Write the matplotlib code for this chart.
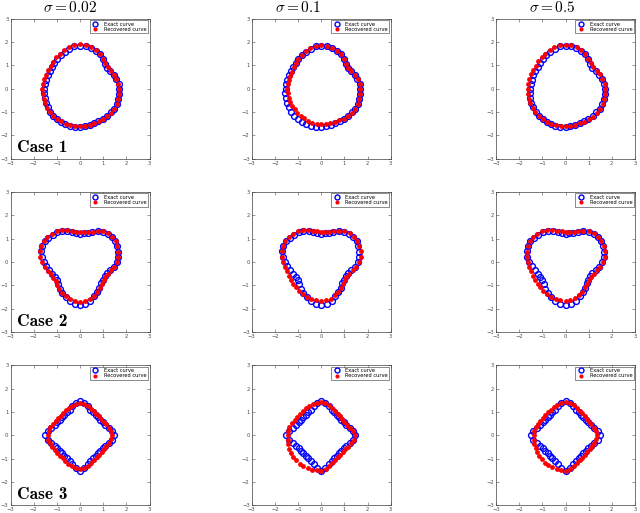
import numpy as np
import matplotlib
matplotlib.use("Agg")
import matplotlib.pyplot as plt

plt.rcParams['mathtext.fontset'] = 'cm'

# polar sampling of every curve: radius read at these angles (degrees)
angles_deg = np.arange(0, 360, 7.5)

# Case 1 - exact and recovered radii
exact_1 = [1.69, 1.68, 1.62, 1.57, 1.50, 1.46, 1.50, 1.60, 1.70, 1.76, 1.80, 1.84,
           1.85, 1.84, 1.78, 1.72, 1.67, 1.62, 1.56, 1.52, 1.50, 1.50, 1.51, 1.52,
           1.54, 1.56, 1.57, 1.59, 1.60, 1.62, 1.63, 1.63, 1.64, 1.66, 1.67, 1.66,
           1.64, 1.63, 1.60, 1.58, 1.58, 1.62, 1.65, 1.67, 1.70, 1.71, 1.71, 1.70]
rec_1_002 = [1.68, 1.67, 1.63, 1.59, 1.54, 1.52, 1.55, 1.63, 1.72, 1.79, 1.84, 1.88,
             1.90, 1.89, 1.85, 1.79, 1.74, 1.69, 1.64, 1.60, 1.58, 1.58, 1.59, 1.60,
             1.62, 1.63, 1.63, 1.63, 1.63, 1.63, 1.63, 1.62, 1.62, 1.62, 1.62, 1.61,
             1.61, 1.61, 1.61, 1.61, 1.62, 1.64, 1.66, 1.68, 1.70, 1.71, 1.70, 1.69]
rec_1_01 = [1.69, 1.68, 1.63, 1.58, 1.51, 1.47, 1.50, 1.60, 1.70, 1.77, 1.81, 1.85,
            1.86, 1.85, 1.80, 1.73, 1.67, 1.61, 1.55, 1.50, 1.47, 1.46, 1.46, 1.46,
            1.46, 1.46, 1.46, 1.45, 1.45, 1.45, 1.45, 1.46, 1.47, 1.49, 1.50, 1.51,
            1.51, 1.52, 1.53, 1.55, 1.57, 1.61, 1.65, 1.68, 1.70, 1.71, 1.71, 1.70]
rec_1_05 = [1.71, 1.70, 1.65, 1.60, 1.55, 1.52, 1.55, 1.63, 1.72, 1.79, 1.84, 1.88,
            1.89, 1.88, 1.84, 1.79, 1.74, 1.70, 1.66, 1.63, 1.62, 1.62, 1.62, 1.63,
            1.63, 1.64, 1.64, 1.64, 1.64, 1.64, 1.64, 1.63, 1.63, 1.62, 1.61, 1.60,
            1.60, 1.60, 1.60, 1.61, 1.63, 1.66, 1.69, 1.71, 1.73, 1.74, 1.73, 1.72]

# Case 2
exact_2 = [1.58, 1.66, 1.70, 1.74, 1.76, 1.75, 1.72, 1.64, 1.52, 1.37, 1.29, 1.24,
           1.22, 1.25, 1.32, 1.42, 1.53, 1.60, 1.66, 1.72, 1.76, 1.77, 1.74, 1.67,
           1.57, 1.47, 1.38, 1.30, 1.26, 1.27, 1.34, 1.44, 1.53, 1.62, 1.71, 1.80,
           1.85, 1.81, 1.72, 1.60, 1.48, 1.38, 1.30, 1.24, 1.23, 1.26, 1.35, 1.48]
rec_2_002 = [1.60, 1.67, 1.71, 1.75, 1.77, 1.76, 1.73, 1.65, 1.54, 1.41, 1.33, 1.29,
             1.28, 1.31, 1.38, 1.48, 1.59, 1.66, 1.72, 1.77, 1.80, 1.81, 1.78, 1.72,
             1.63, 1.53, 1.44, 1.37, 1.33, 1.33, 1.38, 1.46, 1.53, 1.60, 1.66, 1.70,
             1.72, 1.70, 1.65, 1.57, 1.49, 1.40, 1.33, 1.28, 1.26, 1.29, 1.37, 1.50]
rec_2_01 = [1.65, 1.72, 1.76, 1.78, 1.79, 1.77, 1.73, 1.65, 1.54, 1.42, 1.35, 1.31,
            1.29, 1.32, 1.38, 1.48, 1.58, 1.66, 1.72, 1.76, 1.78, 1.77, 1.74, 1.69,
            1.63, 1.58, 1.54, 1.52, 1.51, 1.52, 1.54, 1.57, 1.60, 1.63, 1.65, 1.66,
            1.67, 1.66, 1.62, 1.55, 1.47, 1.38, 1.31, 1.27, 1.26, 1.30, 1.40, 1.53]
rec_2_05 = [1.63, 1.70, 1.75, 1.78, 1.79, 1.77, 1.73, 1.65, 1.55, 1.43, 1.35, 1.31,
            1.30, 1.32, 1.38, 1.47, 1.57, 1.65, 1.71, 1.75, 1.77, 1.76, 1.73, 1.68,
            1.63, 1.58, 1.54, 1.52, 1.51, 1.52, 1.54, 1.57, 1.60, 1.63, 1.65, 1.66,
            1.66, 1.65, 1.61, 1.54, 1.46, 1.37, 1.31, 1.27, 1.27, 1.31, 1.40, 1.52]

# Case 3
exact_3 = [1.48, 1.40, 1.28, 1.18, 1.13, 1.10, 1.09, 1.10, 1.13, 1.18, 1.28, 1.40,
           1.49, 1.40, 1.28, 1.18, 1.13, 1.10, 1.09, 1.10, 1.13, 1.18, 1.28, 1.40,
           1.50, 1.40, 1.28, 1.18, 1.13, 1.10, 1.09, 1.10, 1.13, 1.18, 1.28, 1.40,
           1.51, 1.40, 1.28, 1.18, 1.13, 1.10, 1.09, 1.10, 1.13, 1.18, 1.28, 1.40]
rec_3_002 = [1.36, 1.34, 1.29, 1.23, 1.18, 1.15, 1.14, 1.15, 1.18, 1.23, 1.30, 1.35,
             1.38, 1.36, 1.32, 1.27, 1.23, 1.20, 1.19, 1.20, 1.22, 1.26, 1.32, 1.37,
             1.40, 1.38, 1.35, 1.30, 1.26, 1.24, 1.23, 1.24, 1.27, 1.31, 1.36, 1.41,
             1.44, 1.42, 1.36, 1.29, 1.23, 1.19, 1.17, 1.17, 1.19, 1.23, 1.28, 1.33]
rec_3_01 = [1.44, 1.38, 1.28, 1.20, 1.16, 1.14, 1.14, 1.16, 1.20, 1.27, 1.35, 1.40,
            1.42, 1.41, 1.39, 1.36, 1.33, 1.30, 1.29, 1.30, 1.33, 1.38, 1.42, 1.44,
            1.45, 1.46, 1.47, 1.49, 1.50, 1.51, 1.52, 1.53, 1.54, 1.54, 1.54, 1.52,
            1.51, 1.45, 1.35, 1.27, 1.21, 1.18, 1.17, 1.18, 1.21, 1.27, 1.35, 1.41]
rec_3_05 = [1.34, 1.32, 1.27, 1.21, 1.17, 1.15, 1.16, 1.18, 1.22, 1.28, 1.35, 1.40,
            1.42, 1.40, 1.36, 1.31, 1.27, 1.24, 1.23, 1.24, 1.26, 1.29, 1.33, 1.36,
            1.38, 1.38, 1.39, 1.40, 1.42, 1.44, 1.46, 1.47, 1.48, 1.49, 1.50, 1.51,
            1.51, 1.46, 1.38, 1.30, 1.24, 1.20, 1.18, 1.18, 1.20, 1.24, 1.29, 1.32]

sigmas = ["0.02", "0.1", "0.5"]
case_names = ["Case 1", "Case 2", "Case 3"]
exact_curves = [exact_1, exact_2, exact_3]
recovered_curves = [[rec_1_002, rec_1_01, rec_1_05],
                    [rec_2_002, rec_2_01, rec_2_05],
                    [rec_3_002, rec_3_01, rec_3_05]]

fig = plt.figure(figsize=(6.4, 5.13), dpi=100)

# axes placement (figure fractions)
lefts = [10.5 / 640, 251.7 / 640, 496 / 640]
bottoms = [1 - 158.7 / 513, 1 - 332 / 513, 1 - 505.3 / 513]
w, h = 139 / 640, 140 / 513
title_x = [70 / 640, 298 / 640, 552 / 640]

th = np.deg2rad(angles_deg)
for i in range(3):
    for j in range(3):
        ax = fig.add_axes([lefts[j], bottoms[i], w, h])
        r_ex = np.array(exact_curves[i])
        r_rc = np.array(recovered_curves[i][j])
        ax.plot(r_ex * np.cos(th), r_ex * np.sin(th), 'o', ls='none',
                mfc='none', mec='#0000ff', mew=1.0, ms=4.2, label='Exact curve')
        ax.plot(r_rc * np.cos(th), r_rc * np.sin(th), 'o', ls='none',
                color='#ff0000', mec='none', ms=3.5, label='Recovered curve')
        ax.set_xlim(-3, 3)
        ax.set_ylim(-3, 3)
        ax.set_xticks(range(-3, 4))
        ax.set_yticks(range(-3, 4))
        ax.tick_params(direction='in', top=True, right=True, length=2, width=0.4,
                       labelsize=3.8, labelcolor='0.3', color='0.3', pad=1.5)
        for s in ax.spines.values():
            s.set_linewidth(0.5)
            s.set_color('0.25')
        leg = ax.legend(loc='upper right', fontsize=3.7, fancybox=False,
                        edgecolor='0.2', framealpha=1, borderpad=0.3,
                        handletextpad=0.9, handlelength=1.6, labelspacing=0.05,
                        borderaxespad=0.25, markerscale=0.85)
        leg.get_frame().set_linewidth(0.4)
        if j == 0:
            # bold Computer Modern, as in the LaTeX labels of the original
            ax.text(0.045, 0.045, case_names[i], family='cmb10',
                    transform=ax.transAxes, fontsize=12.5, ha='left', va='baseline')
        if i == 0:
            fig.text(title_x[j], 1 - 8 / 513, r'$\sigma = ' + sigmas[j] + '$',
                     fontsize=11, ha='center', va='center')

fig.savefig("out.png", dpi=100)
